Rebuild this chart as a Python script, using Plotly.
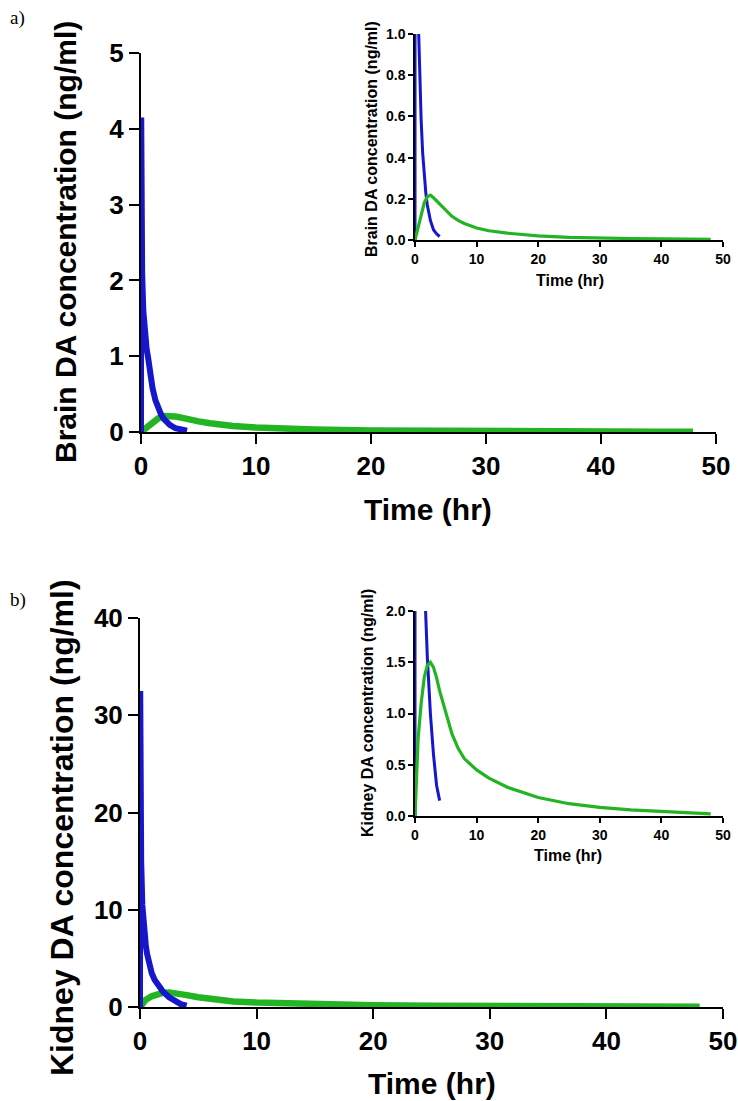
import plotly.graph_objects as go

# ---------------- data ----------------
blue_t = [0, 0.02, 0.05, 0.1, 0.2, 0.3, 0.4, 0.5, 0.6, 0.75, 0.9, 1.0, 1.25, 1.5, 1.75, 2.0, 2.5, 3.0, 3.5, 4.0]
blue_brain = [0, 4.15, 3.0, 2.1, 1.6, 1.35, 1.18, 1.08, 1.0, 0.82, 0.66, 0.58, 0.42, 0.31, 0.23, 0.17,
              0.095, 0.05, 0.03, 0.017]
blue_kidney = [0, 32.5, 22.0, 15.0, 10.5, 8.6, 7.3, 6.3, 5.5, 4.6, 3.9, 3.5, 2.8, 2.3, 1.95, 1.55,
               1.0, 0.6, 0.3, 0.15]

green_t = [0, 0.25, 0.5, 1.0, 1.5, 2.0, 2.5, 3.0, 3.5, 4.0, 5.0, 6.0, 7.0, 8.0, 10.0, 12.0, 15.0,
           20.0, 25.0, 30.0, 35.0, 40.0, 45.0, 48.0]
green_brain = [0, 0.03, 0.06, 0.13, 0.18, 0.21, 0.218, 0.205, 0.19, 0.17, 0.14, 0.115, 0.095, 0.08,
               0.058, 0.045, 0.033, 0.02, 0.013, 0.009, 0.007, 0.005, 0.004, 0.003]
green_kidney = [0, 0.4, 0.75, 1.1, 1.35, 1.47, 1.5, 1.45, 1.35, 1.22, 1.0, 0.8, 0.66, 0.56, 0.45,
                0.37, 0.28, 0.18, 0.12, 0.085, 0.06, 0.042, 0.028, 0.02]

x_ticks = [0, 10, 20, 30, 40, 50]
brain_ticks = [0, 1, 2, 3, 4, 5]
kidney_ticks = [0, 10, 20, 30, 40]
brain_inset_ticks = [0.0, 0.2, 0.4, 0.6, 0.8, 1.0]
kidney_inset_ticks = [0.0, 0.5, 1.0, 1.5, 2.0]

BLUE = "#1616cc"
GREEN = "#22b422"
W, H = 738, 1101
FONT = "Liberation Sans, Arial, sans-serif"


def px_x(p):
    return p / W


def px_y(p):
    return 1 - p / H


fig = go.Figure()

# main a
fig.add_trace(go.Scatter(x=green_t, y=green_brain, mode="lines", line=dict(color=GREEN, width=6.5),
                         xaxis="x", yaxis="y", showlegend=False))
fig.add_trace(go.Scatter(x=blue_t, y=blue_brain, mode="lines", line=dict(color=BLUE, width=6),
                         xaxis="x", yaxis="y", showlegend=False))
# inset a
fig.add_trace(go.Scatter(x=blue_t, y=blue_brain, mode="lines", line=dict(color=BLUE, width=3),
                         xaxis="x2", yaxis="y2", showlegend=False))
fig.add_trace(go.Scatter(x=green_t, y=green_brain, mode="lines", line=dict(color=GREEN, width=3.2),
                         xaxis="x2", yaxis="y2", showlegend=False))
# main b
fig.add_trace(go.Scatter(x=green_t, y=green_kidney, mode="lines", line=dict(color=GREEN, width=6.5),
                         xaxis="x3", yaxis="y3", showlegend=False))
fig.add_trace(go.Scatter(x=blue_t, y=blue_kidney, mode="lines", line=dict(color=BLUE, width=6),
                         xaxis="x3", yaxis="y3", showlegend=False))
# inset b
fig.add_trace(go.Scatter(x=blue_t, y=blue_kidney, mode="lines", line=dict(color=BLUE, width=3),
                         xaxis="x4", yaxis="y4", showlegend=False))
fig.add_trace(go.Scatter(x=green_t, y=green_kidney, mode="lines", line=dict(color=GREEN, width=3.2),
                         xaxis="x4", yaxis="y4", showlegend=False))


def main_axis(domain, rng, ticks, anchor, fmt=None):
    d = dict(domain=domain, range=rng, tickvals=ticks, showline=True, linecolor="black", linewidth=2,
             ticks="outside", ticklen=10, tickwidth=2, tickcolor="black", showgrid=False,
             zeroline=False, anchor=anchor, layer="below traces", automargin=False,
             tickfont=dict(family=FONT, size=26, color="black", weight="bold"))
    if fmt:
        d["tickformat"] = fmt
    return d


def inset_axis(domain, rng, ticks, anchor, fmt=None):
    d = dict(domain=domain, range=rng, tickvals=ticks, showline=True, linecolor="black", linewidth=1.5,
             ticks="outside", ticklen=5, tickwidth=1.5, tickcolor="black", showgrid=False,
             zeroline=False, anchor=anchor, layer="below traces", automargin=False,
             tickfont=dict(family=FONT, size=14, color="black", weight="bold"))
    if fmt:
        d["tickformat"] = fmt
    return d


fig.update_layout(
    template="none",
    width=W, height=H, margin=dict(l=0, r=0, t=0, b=0, autoexpand=False),
    paper_bgcolor="white", plot_bgcolor="rgba(0,0,0,0)",
    xaxis=main_axis([px_x(141), px_x(716)], [0, 50], x_ticks, "y"),
    yaxis=main_axis([px_y(432), px_y(53)], [0, 5], brain_ticks, "x"),
    xaxis2=inset_axis([px_x(415), px_x(723)], [0, 50], x_ticks, "y2"),
    yaxis2=inset_axis([px_y(240), px_y(34)], [0, 1.0], brain_inset_ticks, "x2", ".1f"),
    xaxis3=main_axis([px_x(140), px_x(723)], [0, 50], x_ticks, "y3"),
    yaxis3=main_axis([px_y(1007), px_y(618)], [0, 40], kidney_ticks, "x3"),
    xaxis4=inset_axis([px_x(415), px_x(723)], [0, 50], x_ticks, "y4"),
    yaxis4=inset_axis([px_y(816), px_y(611)], [0, 2.0], kidney_inset_ticks, "x4", ".1f"),
)

titles = [
    # text, x px, y px, size, angle
    ("Brain DA concentration (ng/ml)", 65, 242, 30, -90),
    ("Time (hr)", 428, 509, 30, 0),
    ("Kidney DA concentration (ng/ml)", 62, 828, 32, -90),
    ("Time (hr)", 432, 1083, 30, 0),
    ("Brain DA concentration (ng/ml)", 372, 139, 16, -90),
    ("Time (hr)", 570, 280, 16, 0),
    ("Kidney DA concentration (ng/ml)", 367, 713, 16, -90),
    ("Time (hr)", 568, 855, 16, 0),
]
for text, x, y, size, ang in titles:
    fig.add_annotation(text=text, x=px_x(x), y=px_y(y), xref="paper", yref="paper",
                       xanchor="center", yanchor="middle", showarrow=False, textangle=ang,
                       font=dict(family=FONT, size=size, color="black", weight="bold"))

for text, x, y in [("a)", 17, 18), ("b)", 18, 600)]:
    fig.add_annotation(text=text, x=px_x(x), y=px_y(y), xref="paper", yref="paper",
                       xanchor="center", yanchor="middle", showarrow=False,
                       font=dict(family="Liberation Serif, Times New Roman, serif", size=19, color="black"))

fig.write_html("out.html")
